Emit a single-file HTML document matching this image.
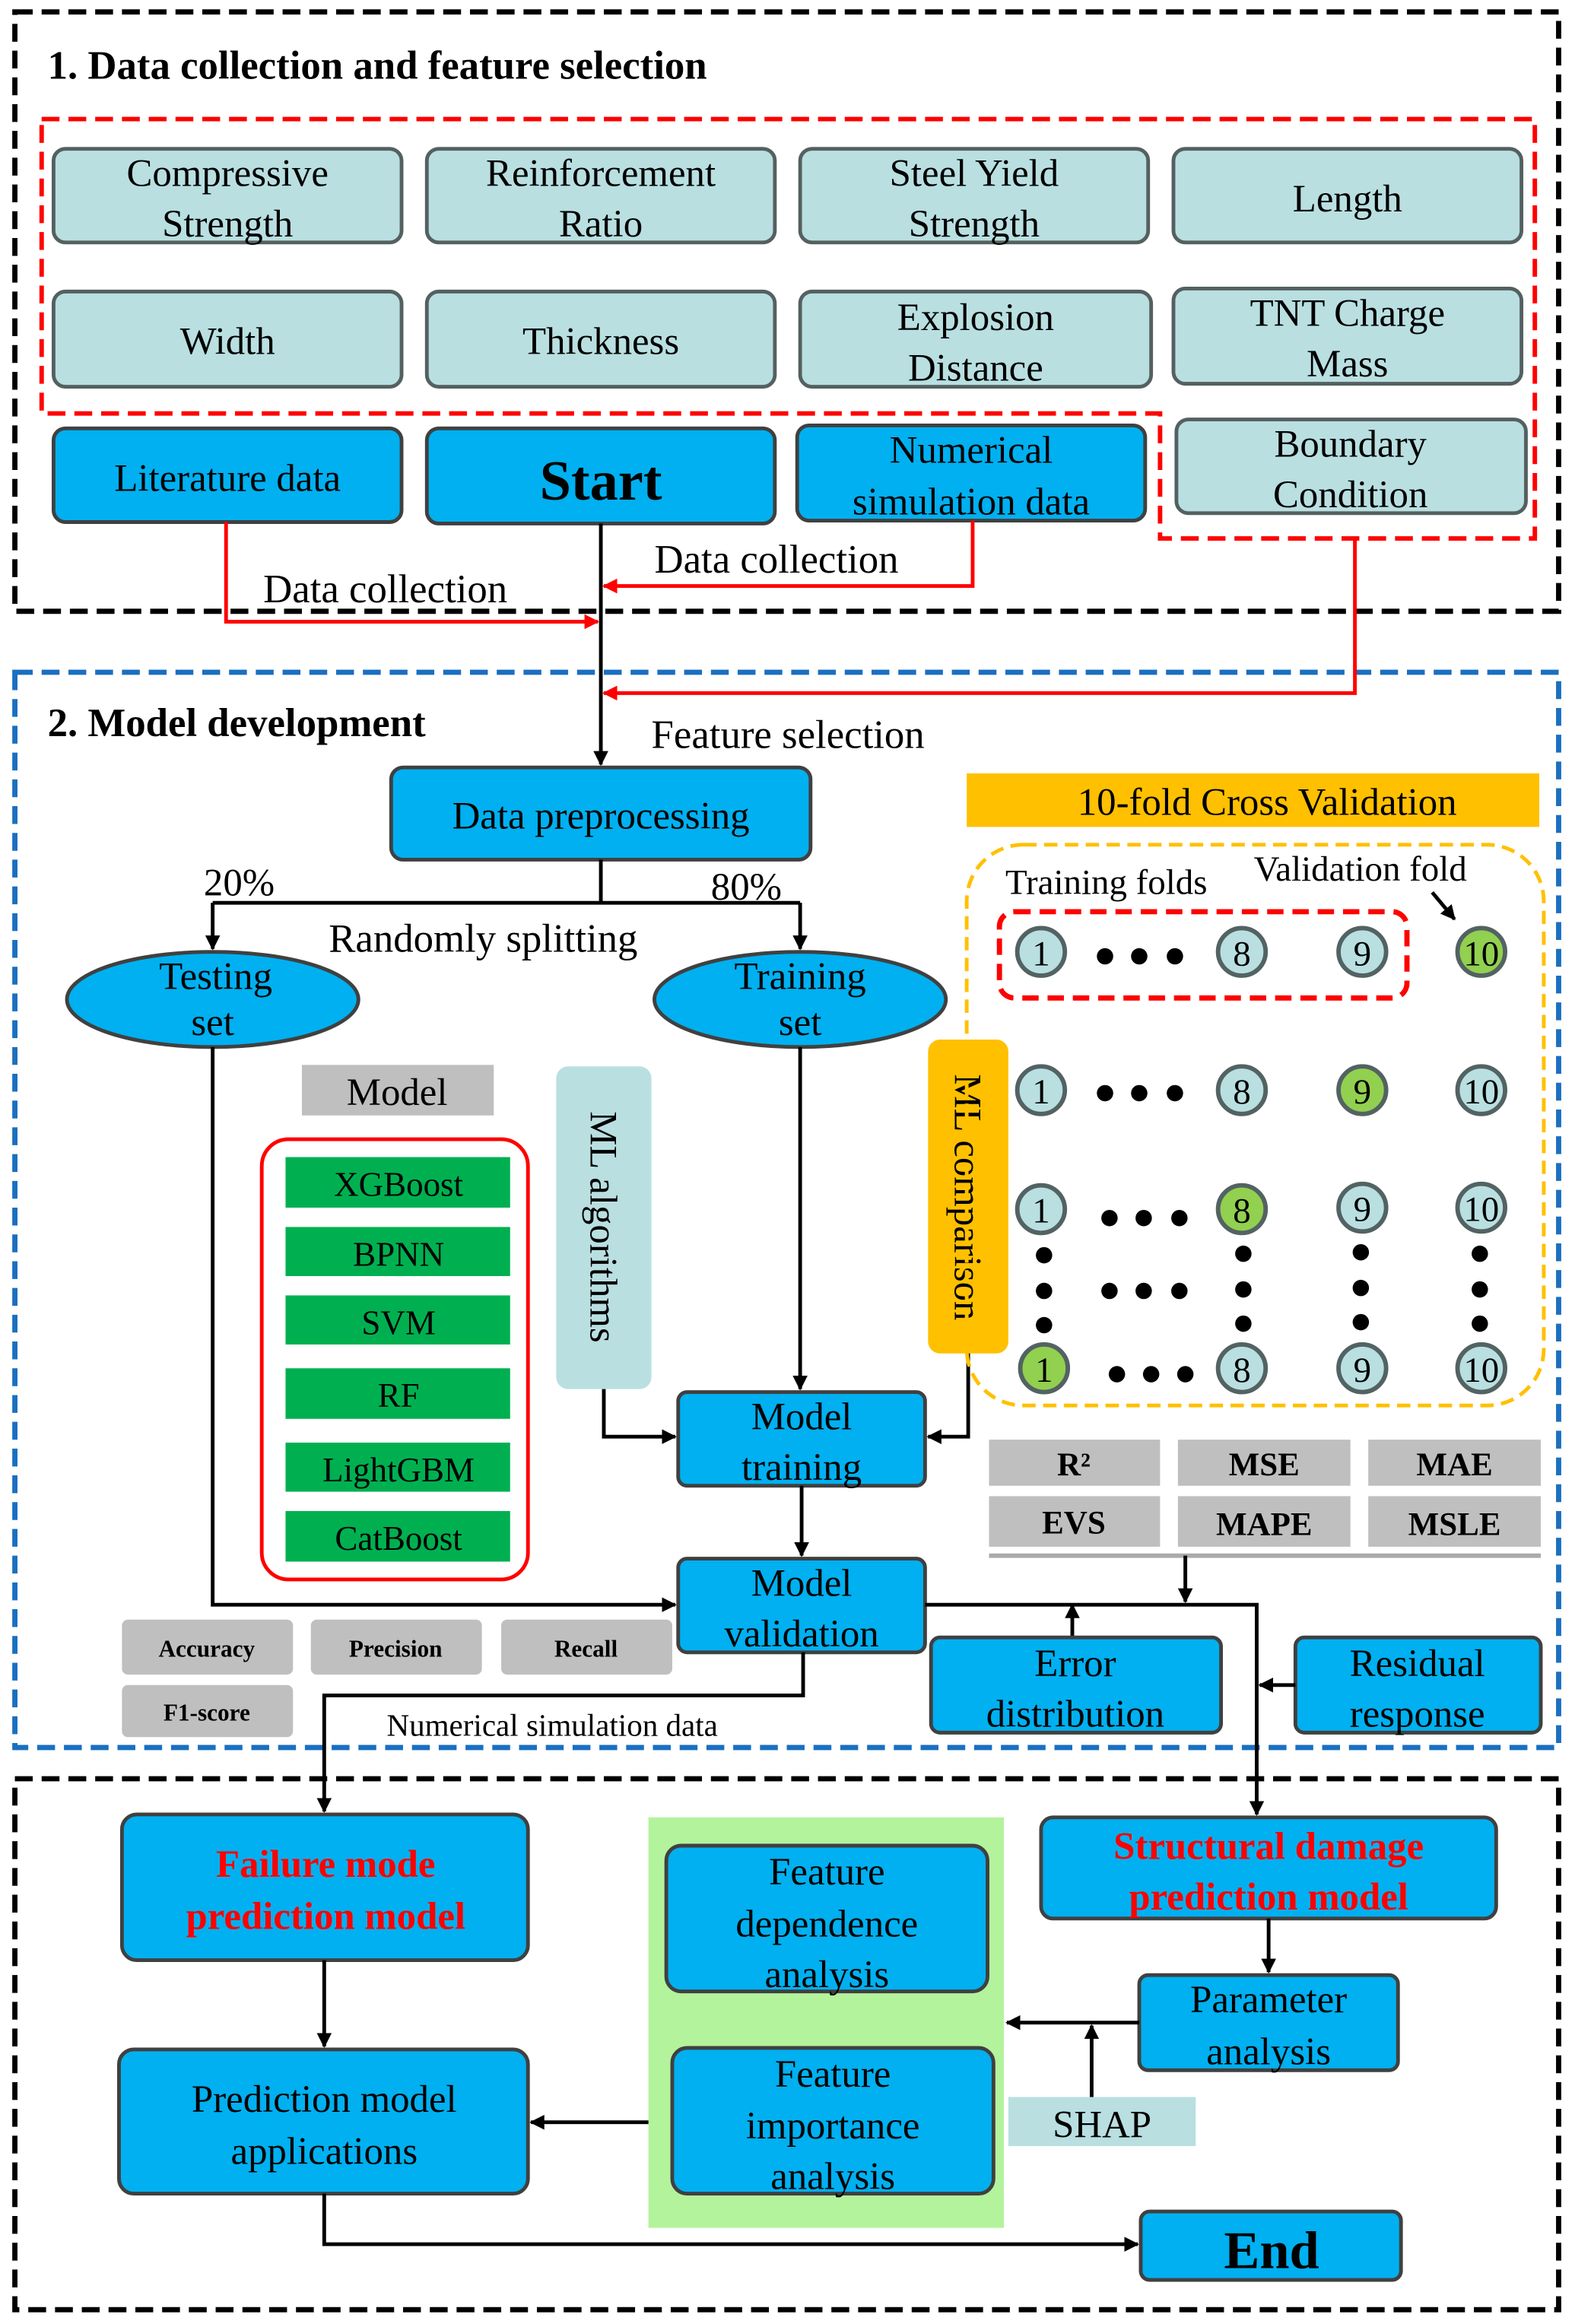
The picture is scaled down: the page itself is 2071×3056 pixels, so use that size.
<!DOCTYPE html>
<html><head><meta charset="utf-8"><style>
html,body{margin:0;padding:0;background:#fff}
svg{display:block}
text{font-family:"Liberation Serif",serif;fill:#000}
.b{fill:#00b0f0;stroke:#404040;stroke-width:2.5}
.l{fill:#b9dfe1;stroke:#556060;stroke-width:2.5}
.g{fill:#00b050;stroke:none}
.gr{fill:#bfbfbf;stroke:none}
.t{font-size:26px;text-anchor:middle}
.ln{stroke:#000;stroke-width:2.5;fill:none}
.rl{stroke:#f00;stroke-width:2.5;fill:none}
.c{stroke:#536262;stroke-width:3}
</style></head><body>
<svg width="2071" height="3056" viewBox="0 0 1059 1562.6" xmlns="http://www.w3.org/2000/svg">
<defs>
<marker id="ak" markerWidth="10" markerHeight="10" refX="9" refY="5" orient="auto" markerUnits="userSpaceOnUse"><path d="M0,0 L10,5 L0,10 z" fill="#000"/></marker>
<marker id="ar" markerWidth="10" markerHeight="10" refX="9" refY="5" orient="auto" markerUnits="userSpaceOnUse"><path d="M0,0 L10,5 L0,10 z" fill="#f00"/></marker>
</defs>
<!-- section boxes -->
<rect x="10" y="8" width="1038" height="403" fill="none" stroke="#000" stroke-width="3.5" stroke-dasharray="12,6"/>
<rect x="10" y="452" width="1038" height="723" fill="none" stroke="#1a6fc0" stroke-width="3.5" stroke-dasharray="12,6"/>
<rect x="10" y="1196" width="1038" height="357" fill="none" stroke="#000" stroke-width="3.5" stroke-dasharray="12,6"/>
<text x="32" y="53" style="font-size:27px;font-weight:bold">1. Data collection and feature selection</text>
<text x="32" y="495" style="font-size:27px;font-weight:bold">2. Model development</text>

<path d="M28,80 H1032 V362 H780 V278 H28 Z" fill="none" stroke="#f00" stroke-width="3" stroke-dasharray="12,6"/>
<!-- feature boxes -->
<rect class="l" x="36" y="100" width="234" height="63" rx="8"/><text class="t" x="153" y="125">Compressive</text><text class="t" x="153" y="159">Strength</text>
<rect class="l" x="287" y="100" width="234" height="63" rx="8"/><text class="t" x="404" y="125">Reinforcement</text><text class="t" x="404" y="159">Ratio</text>
<rect class="l" x="538" y="100" width="234" height="63" rx="8"/><text class="t" x="655" y="125">Steel Yield</text><text class="t" x="655" y="159">Strength</text>
<rect class="l" x="789" y="100" width="234" height="63" rx="8"/><text class="t" x="906" y="142">Length</text>
<rect class="l" x="36" y="196" width="234" height="64" rx="8"/><text class="t" x="153" y="238">Width</text>
<rect class="l" x="287" y="196" width="234" height="64" rx="8"/><text class="t" x="404" y="238">Thickness</text>
<rect class="l" x="538" y="196" width="236" height="64" rx="8"/><text class="t" x="656" y="222">Explosion</text><text class="t" x="656" y="256">Distance</text>
<rect class="l" x="789" y="194" width="234" height="64" rx="8"/><text class="t" x="906" y="219">TNT Charge</text><text class="t" x="906" y="253">Mass</text>
<rect class="l" x="791" y="282" width="235" height="63" rx="8"/><text class="t" x="908" y="307">Boundary</text><text class="t" x="908" y="341">Condition</text>
<rect class="b" x="36" y="288" width="234" height="63" rx="8"/><text class="t" x="153" y="330">Literature data</text>
<rect class="b" x="287" y="288" width="234" height="64" rx="8"/><text class="t" x="404" y="336" style="font-size:38px;font-weight:bold">Start</text>
<rect class="b" x="536" y="286" width="234" height="64" rx="8"/><text class="t" x="653" y="311">Numerical</text><text class="t" x="653" y="346">simulation data</text>

<!-- red connectors -->
<path class="rl" d="M152,351 V418 H402" marker-end="url(#ar)"/>
<path class="rl" d="M654,350 V394 H406" marker-end="url(#ar)"/>
<path class="rl" d="M911,362 V466 H406" marker-end="url(#ar)"/>
<text x="177" y="405" style="font-size:27px">Data collection</text>
<text x="440" y="385" style="font-size:27px">Data collection</text>
<text x="438" y="503" style="font-size:27px">Feature selection</text>
<path class="ln" d="M404,352 V514" marker-end="url(#ak)"/>

<rect class="b" x="263" y="516" width="282" height="62" rx="8"/><text class="t" x="404" y="557">Data preprocessing</text>
<path class="ln" d="M404,578 V607 M143,607 H538"/>
<path class="ln" d="M143,607 V638" marker-end="url(#ak)"/>
<path class="ln" d="M538,607 V638" marker-end="url(#ak)"/>
<text x="137" y="602" style="font-size:26px">20%</text>
<text x="478" y="605" style="font-size:26px">80%</text>
<text x="221" y="640" style="font-size:27px">Randomly splitting</text>
<ellipse class="b" cx="143" cy="672" rx="98" ry="32"/><text class="t" x="145" y="665">Testing</text><text class="t" x="143" y="696">set</text>
<ellipse class="b" cx="538" cy="672" rx="98" ry="32"/><text class="t" x="538" y="665">Training</text><text class="t" x="538" y="696">set</text>

<rect class="gr" x="203" y="716" width="129" height="34"/><text class="t" x="267" y="743">Model</text>
<rect x="176" y="766" width="179" height="296" rx="18" fill="none" stroke="#f00" stroke-width="2.5"/>
<g style="font-size:23px">
<rect class="g" x="192" y="778" width="151" height="34"/><text class="t" x="268" y="804" style="font-size:23px">XGBoost</text>
<rect class="g" x="192" y="825" width="151" height="33"/><text class="t" x="268" y="851" style="font-size:23px">BPNN</text>
<rect class="g" x="192" y="871" width="151" height="33"/><text class="t" x="268" y="897" style="font-size:23px">SVM</text>
<rect class="g" x="192" y="920" width="151" height="34"/><text class="t" x="268" y="946" style="font-size:23px">RF</text>
<rect class="g" x="192" y="970" width="151" height="33"/><text class="t" x="268" y="996" style="font-size:23px">LightGBM</text>
<rect class="g" x="192" y="1016" width="151" height="34"/><text class="t" x="268" y="1042" style="font-size:23px">CatBoost</text>
</g>
<rect x="374" y="717" width="64" height="217" rx="8" fill="#b9dfe1"/>
<text transform="translate(397,825) rotate(90)" class="t">ML algorithms</text>
<rect x="624" y="699" width="54" height="211" rx="8" fill="#ffc000"/>
<text transform="translate(642,805) rotate(90)" class="t">ML comparison</text>

<rect class="b" x="456" y="936" width="166" height="63" rx="6"/><text class="t" x="539" y="961">Model</text><text class="t" x="539" y="995">training</text>
<path class="ln" d="M406,934 V966 H454" marker-end="url(#ak)"/>
<path class="ln" d="M538,704 V934" marker-end="url(#ak)"/>
<path class="ln" d="M651,910 V966 H624" marker-end="url(#ak)"/>

<!-- CV -->
<rect x="650" y="520" width="385" height="36" fill="#ffc000"/><text class="t" x="852" y="548">10-fold Cross Validation</text>
<rect x="650" y="568" width="388" height="377" rx="38" fill="none" stroke="#ffc000" stroke-width="2.5" stroke-dasharray="9,5"/>
<text x="676" y="601" style="font-size:24px">Training folds</text>
<text x="843" y="592" style="font-size:24px">Validation fold</text>
<path class="ln" d="M963,600 L978,618" marker-end="url(#ak)"/>
<rect x="672" y="613" width="274" height="58" rx="10" fill="none" stroke="#f00" stroke-width="3.5" stroke-dasharray="11,6"/>
<g font-size="24">
<g class="c">
<circle cx="700" cy="640" r="16" fill="#b9dfe1"/><circle cx="835" cy="640" r="16" fill="#b9dfe1"/><circle cx="916" cy="640" r="16" fill="#b9dfe1"/><circle cx="996" cy="640" r="16" fill="#92d050"/>
<circle cx="700" cy="733" r="16" fill="#b9dfe1"/><circle cx="835" cy="733" r="16" fill="#b9dfe1"/><circle cx="916" cy="733" r="16" fill="#92d050"/><circle cx="996" cy="733" r="16" fill="#b9dfe1"/>
<circle cx="700" cy="813" r="16" fill="#b9dfe1"/><circle cx="835" cy="813" r="16" fill="#92d050"/><circle cx="916" cy="812" r="16" fill="#b9dfe1"/><circle cx="996" cy="812" r="16" fill="#b9dfe1"/>
<circle cx="702" cy="920" r="16" fill="#92d050"/><circle cx="835" cy="920" r="16" fill="#b9dfe1"/><circle cx="916" cy="920" r="16" fill="#b9dfe1"/><circle cx="996" cy="920" r="16" fill="#b9dfe1"/>
</g>
<g class="t" style="font-size:24px">
<text x="700" y="649">1</text><text x="835" y="649">8</text><text x="916" y="649">9</text><text x="996" y="649">10</text>
<text x="700" y="742">1</text><text x="835" y="742">8</text><text x="916" y="742">9</text><text x="996" y="742">10</text>
<text x="700" y="822">1</text><text x="835" y="822">8</text><text x="916" y="821">9</text><text x="996" y="821">10</text>
<text x="702" y="929">1</text><text x="835" y="929">8</text><text x="916" y="929">9</text><text x="996" y="929">10</text>
</g>
</g>
<g fill="#000">
<circle cx="743" cy="643" r="5.5"/><circle cx="766" cy="643" r="5.5"/><circle cx="790" cy="643" r="5.5"/>
<circle cx="743" cy="735" r="5.5"/><circle cx="766" cy="735" r="5.5"/><circle cx="790" cy="735" r="5.5"/>
<circle cx="746" cy="819" r="5.5"/><circle cx="769" cy="819" r="5.5"/><circle cx="793" cy="819" r="5.5"/>
<circle cx="746" cy="868" r="5.5"/><circle cx="769" cy="868" r="5.5"/><circle cx="793" cy="868" r="5.5"/>
<circle cx="751" cy="924" r="5.5"/><circle cx="774" cy="924" r="5.5"/><circle cx="797" cy="924" r="5.5"/>
<circle cx="702" cy="844" r="5.5"/><circle cx="702" cy="868" r="5.5"/><circle cx="702" cy="891" r="5.5"/>
<circle cx="836" cy="843" r="5.5"/><circle cx="836" cy="867" r="5.5"/><circle cx="836" cy="890" r="5.5"/>
<circle cx="915" cy="842" r="5.5"/><circle cx="915" cy="866" r="5.5"/><circle cx="915" cy="889" r="5.5"/>
<circle cx="995" cy="843" r="5.5"/><circle cx="995" cy="867" r="5.5"/><circle cx="995" cy="890" r="5.5"/>
</g>

<!-- metrics -->
<g style="font-weight:bold">
<rect class="gr" x="665" y="968" width="115" height="31"/><text class="t" x="722" y="992" style="font-size:22px;font-weight:bold">R²</text>
<rect class="gr" x="792" y="968" width="116" height="31"/><text class="t" x="850" y="992" style="font-size:22px;font-weight:bold">MSE</text>
<rect class="gr" x="920" y="968" width="116" height="31"/><text class="t" x="978" y="992" style="font-size:22px;font-weight:bold">MAE</text>
<rect class="gr" x="665" y="1006" width="115" height="34"/><text class="t" x="722" y="1031" style="font-size:22px;font-weight:bold">EVS</text>
<rect class="gr" x="792" y="1006" width="116" height="34"/><text class="t" x="850" y="1032" style="font-size:22px;font-weight:bold">MAPE</text>
<rect class="gr" x="920" y="1006" width="116" height="34"/><text class="t" x="978" y="1032" style="font-size:22px;font-weight:bold">MSLE</text>
</g>
<path d="M665,1046 H1036" stroke="#aaa" stroke-width="3"/>
<path class="ln" d="M797,1046 V1077" marker-end="url(#ak)"/>

<rect class="b" x="456" y="1048" width="166" height="63" rx="6"/><text class="t" x="539" y="1073">Model</text><text class="t" x="539" y="1107">validation</text>
<path class="ln" d="M539,999 V1046" marker-end="url(#ak)"/>
<path class="ln" d="M143,704 V1079 H454" marker-end="url(#ak)"/>
<path class="ln" d="M622,1079 H845 V1220" marker-end="url(#ak)"/>
<path class="ln" d="M721,1101 V1079" marker-end="url(#ak)"/>
<rect class="b" x="626" y="1101" width="195" height="64" rx="6"/><text class="t" x="723" y="1127">Error</text><text class="t" x="723" y="1161">distribution</text>
<rect class="b" x="871" y="1101" width="165" height="64" rx="6"/><text class="t" x="953" y="1127">Residual</text><text class="t" x="953" y="1161">response</text>
<path class="ln" d="M871,1133 H847" marker-end="url(#ak)"/>

<rect class="gr" x="82" y="1089" width="115" height="37" rx="4"/><text class="t" x="139" y="1114" style="font-size:16px;font-weight:bold">Accuracy</text>
<rect class="gr" x="209" y="1089" width="115" height="37" rx="4"/><text class="t" x="266" y="1114" style="font-size:16px;font-weight:bold">Precision</text>
<rect class="gr" x="337" y="1089" width="115" height="37" rx="4"/><text class="t" x="394" y="1114" style="font-size:16px;font-weight:bold">Recall</text>
<rect class="gr" x="82" y="1133" width="115" height="35" rx="4"/><text class="t" x="139" y="1157" style="font-size:16px;font-weight:bold">F1-score</text>

<path class="ln" d="M540,1111 V1140 H218 V1218" marker-end="url(#ak)"/>
<text x="260" y="1167" style="font-size:21px">Numerical simulation data</text>

<!-- section 3 -->
<rect class="b" x="82" y="1220" width="273" height="98" rx="10"/>
<text class="t" x="219" y="1262" style="fill:#f00;font-weight:bold">Failure mode</text><text class="t" x="219" y="1297" style="fill:#f00;font-weight:bold">prediction model</text>
<rect class="b" x="80" y="1378" width="275" height="97" rx="10"/>
<text class="t" x="218" y="1420">Prediction model</text><text class="t" x="218" y="1455">applications</text>
<path class="ln" d="M218,1318 V1376" marker-end="url(#ak)"/>
<rect x="436" y="1222" width="239" height="276" fill="#b3f39c"/>
<rect class="b" x="448" y="1241" width="216" height="98" rx="10"/>
<text class="t" x="556" y="1267">Feature</text><text class="t" x="556" y="1302">dependence</text><text class="t" x="556" y="1336">analysis</text>
<rect class="b" x="452" y="1377" width="216" height="98" rx="10"/>
<text class="t" x="560" y="1403">Feature</text><text class="t" x="560" y="1438">importance</text><text class="t" x="560" y="1472">analysis</text>
<path class="ln" d="M436,1427 H357" marker-end="url(#ak)"/>
<rect class="b" x="700" y="1222" width="306" height="68" rx="8"/>
<text class="t" x="853" y="1250" style="fill:#f00;font-weight:bold">Structural damage</text><text class="t" x="853" y="1284" style="fill:#f00;font-weight:bold">prediction model</text>
<rect class="b" x="766" y="1328" width="174" height="64" rx="6"/><text class="t" x="853" y="1353">Parameter</text><text class="t" x="853" y="1388">analysis</text>
<path class="ln" d="M853,1290 V1326" marker-end="url(#ak)"/>
<path class="ln" d="M766,1360 H677" marker-end="url(#ak)"/>
<rect x="678" y="1410" width="126" height="33" fill="#b9dfe1"/><text class="t" x="741" y="1437">SHAP</text>
<path class="ln" d="M734,1410 V1362" marker-end="url(#ak)"/>
<rect class="b" x="767" y="1487" width="175" height="46" rx="6"/><text class="t" x="855" y="1525" style="font-size:36px;font-weight:bold">End</text>
<path class="ln" d="M218,1475 V1509 H765" marker-end="url(#ak)"/>
</svg>
</body></html>
